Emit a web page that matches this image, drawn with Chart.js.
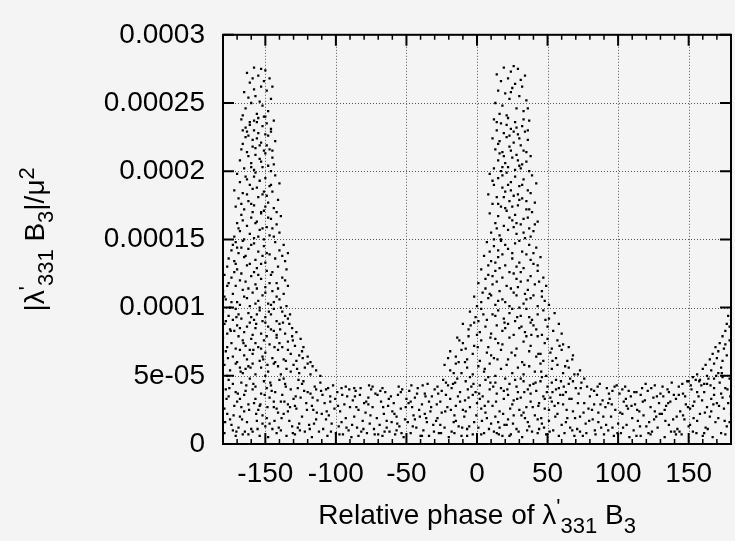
<!DOCTYPE html>
<html lang="en">
<head>
<meta charset="UTF-8">
<title>Relative phase of lambda'331 B3</title>
<script src="https://cdn.jsdelivr.net/npm/chart.js@4.4.1/dist/chart.umd.min.js"></script>
<style>
  html, body { margin: 0; padding: 0; background: #f4f4f4; }
  #wrap { width: 735px; height: 541px; }
</style>
</head>
<body>
<div id="wrap"><canvas id="scan" width="735" height="541"></canvas></div>
<script>
// points: [phase in degrees, |lambda'331 B3|/mu^2 in units of 1e-6]
const leftPeakTop = [[-163,272],[-158,276],[-155,270],[-150,274],[-147,268],[-161,265],[-153,262],[-149,259],[-165,258],[-157,255],[-146,253],[-160,250],[-152,248],[-164,246],[-148,244],[-156,242],[-159,268],[-151,266],[-162,254],[-154,251],[-145,262],[-166,241],[-150,240],[-158,260],[-153,275]];
const leftPeakUpper = [[-167,238],[-161,236],[-155,239],[-149,235],[-144,237],[-164,232],[-158,230],[-152,233],[-146,229],[-162,226],[-156,224],[-150,227],[-143,222],[-166,220],[-159,218],[-153,221],[-147,216],[-163,214],[-157,212],[-151,215],[-145,210],[-168,208],[-160,206],[-154,209],[-148,204],[-165,202],[-158,201],[-152,203],[-144,205],[-161,234],[-146,231],[-155,228],[-164,225],[-149,219],[-157,217],[-162,211],[-150,213],[-167,216],[-153,207],[-146,200],[-159,223],[-156,236],[-151,240],[-163,229],[-148,226],[-160,203],[-154,219],[-166,230],[-145,215],[-158,237],
  [-170,198],[-164,196],[-157,199],[-150,195],[-143,197],[-168,192],[-161,190],[-154,193],[-147,189],[-140,191],[-172,186],[-166,184],[-159,187],[-152,183],[-145,185],[-169,180],[-162,178],[-155,181],[-148,177],[-141,179],[-171,174],[-165,172],[-158,175],[-151,171],[-144,173],[-167,168],[-160,166],[-153,169],[-146,165],[-139,167],[-170,162],[-163,160],[-156,163],[-149,159],[-142,161],[-168,156],[-161,154],[-154,157],[-147,153],[-140,155],[-172,152],[-165,150],[-158,151],[-151,150],[-144,152],[-163,194],[-156,188],[-149,182],[-160,176],[-153,170],[-166,164],[-145,158],[-158,196],[-151,185],[-142,170],[-169,158],[-157,162],[-150,174],[-163,183],[-148,166],[-155,152],[-167,176],[-146,190],[-159,170],[-152,158]];
const leftPeakLower = [[-171,148],[-173,146],[-166,149],[-158,147],[-151,145],[-143,148],[-137,146],[-174,142],[-169,140],[-162,143],[-155,141],[-147,139],[-140,142],[-134,140],[-176,136],[-172,134],[-165,137],[-157,135],[-150,133],[-143,136],[-136,134],[-177,130],[-170,128],[-163,131],[-156,129],[-149,127],[-141,130],[-135,128],[-179,124],[-174,122],[-167,125],[-160,123],[-153,121],[-146,124],[-138,122],[-176,118],[-171,116],[-164,119],[-157,117],[-150,115],[-142,118],[-134,116],[-180,112],[-173,110],[-166,113],[-159,111],[-152,109],[-145,112],[-137,110],[-178,106],[-170,104],[-163,107],[-155,105],[-148,103],[-140,106],[-135,101],[-175,100],[-168,102],[-161,101],[-154,100],[-146,102],[-139,100],[-170,144],[-164,138],[-153,132],[-145,126],[-168,120],[-156,114],[-142,108],[-174,104],[-160,146],[-149,140],[-171,132],[-138,138],[-158,126],[-177,116],[-147,118],[-165,108],[-152,138],[-141,114],[-172,126],[-161,132],[-144,104],[-155,124],[-167,144],[-136,120],[-179,108],[-150,111],[-162,114],[-157,103],
  [-180,97],[-176,94],[-171,99],[-167,92],[-162,96],[-158,91],[-154,98],[-150,93],[-146,95],[-142,90],[-138,97],[-134,92],[-178,90],[-169,95],[-160,93],[-152,90],[-144,99],[-136,94],[-173,91],[-156,95],
  [-179,88],[-175,84],[-170,87],[-165,82],[-161,89],[-157,85],[-153,81],[-148,86],[-144,83],[-140,88],[-136,81],[-131,85],[-128,82],[-177,81],[-168,85],[-159,80],[-150,89],[-142,80],[-133,88],[-163,86],[-172,83],[-146,84],
  [-180,78],[-174,74],[-169,79],[-164,72],[-160,77],[-155,71],[-151,76],[-147,73],[-142,78],[-138,71],[-134,75],[-129,72],[-125,77],[-123,71],[-177,71],[-166,76],[-157,74],[-149,79],[-140,74],[-131,79],[-171,70],[-153,70],
  [-178,68],[-173,64],[-168,69],[-163,62],[-159,66],[-154,61],[-150,67],[-145,63],[-141,69],[-137,62],[-132,66],[-128,61],[-124,68],[-120,64],[-118,60],[-180,61],[-170,60],[-161,69],[-152,64],[-143,60],[-134,69],[-126,65],[-165,65],
  [-179,58],[-175,54],[-171,59],[-166,52],[-162,57],[-157,51],[-153,56],[-148,53],[-144,59],[-139,51],[-135,55],[-130,58],[-126,52],[-122,56],[-118,51],[-114,54],[-111,50],[-177,50],[-168,56],[-159,59],[-150,50],[-141,57],[-132,53],[-120,59],[-164,55],
  [-176.5,63],[-170.5,93],[-165.5,74],[-160.5,56],[-156.5,88],[-151.5,62],[-147.5,97],[-143.5,71],[-139.5,84],[-135.5,61],[-130.5,76],[-127.5,55],[-123.5,63],[-116.5,57],[-174.5,83],[-167.5,53],[-158.5,69],[-148.5,58],[-137.5,89],[-132.5,95]];
const rightEdge = [[150,46],[153,49],[156,51],[158,47],[160,55],[162,58],[163,50],[165,62],[166,54],[167,66],[168,59],[169,71],[170,63],[171,68],[172,74],[173,56],[174,79],[175,70],[176,83],[177,65],[177,88],[178,94],[179,76],[179,86],[180,91],[174,61],[171,52],[176,73],[168,48],[161,44]];
const centrePeakTop = [[14,271],[19,276],[24,273],[29,275],[34,270],[17,266],[22,268],[27,264],[32,262],[15,259],[20,257],[25,261],[30,255],[35,252],[13,250],[18,248],[23,253],[28,246],[33,244],[16,242],[21,241],[26,277],[31,267],[36,246],[24,258]];
const centrePeakUpper = [[12,238],[17,235],[22,239],[27,236],[32,233],[37,237],[14,230],[19,228],[24,231],[29,227],[34,229],[11,224],[16,222],[21,225],[26,221],[31,219],[36,223],[13,216],[18,214],[23,218],[28,212],[33,215],[38,211],[15,208],[20,206],[25,210],[30,204],[35,207],[12,202],[17,200],[22,203],[27,201],[32,205],[37,200],[21,234],[26,229],[15,220],[30,224],[35,214],[19,211],[24,215],[29,208],[14,236],[33,238],[18,203],[28,232],[23,226],[36,230],[16,213],[31,202],
  [9,198],[15,195],[21,199],[27,196],[33,194],[39,197],[12,190],[18,188],[24,192],[30,189],[36,186],[42,191],[8,183],[14,181],[20,185],[26,182],[32,180],[38,184],[11,176],[17,174],[23,178],[29,175],[35,172],[41,177],[9,169],[15,167],[21,171],[27,168],[33,165],[39,170],[13,162],[19,160],[25,164],[31,161],[37,158],[43,163],[10,155],[16,153],[22,157],[28,154],[34,151],[40,156],[12,150],[18,197],[24,186],[30,179],[36,166],[20,173],[26,159],[32,190],[14,158],[38,152],[23,166],[29,183],[17,150],[35,178],[11,193],[41,161],[25,174],[19,181],[28,162],[33,155],[22,190],[37,172],[15,176]];
const centrePeakLower = [[7,148],[12,145],[17,149],[22,143],[27,147],[32,141],[37,146],[42,144],[9,141],[20,146],[30,149],[40,140],[15,142],[25,140],
  [5,138],[10,134],[15,137],[20,131],[25,136],[30,133],[35,139],[40,132],[45,137],[8,131],[18,139],[28,130],[38,135],[13,133],[43,131],
  [3,128],[8,124],[13,127],[18,122],[23,126],[28,121],[33,129],[38,123],[43,127],[47,122],[6,121],[16,129],[26,125],[36,120],[11,123],[31,126],
  [1,118],[6,114],[11,117],[16,112],[21,116],[26,111],[31,119],[36,113],[41,117],[46,112],[49,116],[4,111],[14,119],[24,114],[34,110],[44,119],[9,110],[29,115],
  [-2,108],[3,104],[8,107],[13,102],[18,106],[23,101],[28,109],[33,103],[38,107],[43,101],[48,105],[51,102],[0,101],[10,109],[20,104],[30,100],[40,109],[46,108],[15,105],[35,106],
  [-5,97],[-1,93],[3,99],[7,91],[11,95],[15,98],[19,92],[23,96],[27,90],[31,94],[35,99],[39,91],[43,95],[47,98],[51,92],[55,96],[1,90],[13,94],[25,99],[37,93],
  [-10,88],[-6,84],[-2,89],[2,82],[6,86],[10,81],[14,87],[18,83],[22,88],[26,80],[30,85],[34,82],[38,89],[42,84],[46,80],[50,86],[54,83],[58,88],[60,81],[0,80],[20,85],[40,87],
  [-14,78],[-10,74],[-6,79],[-2,72],[3,76],[8,71],[13,77],[18,73],[23,78],[28,70],[33,75],[38,72],[43,79],[48,74],[53,70],[57,76],[61,73],[65,71],[-8,70],[15,74],[35,79],[50,77],
  [-19,68],[-15,64],[-11,69],[-7,62],[-3,66],[2,61],[7,67],[12,63],[17,69],[22,62],[27,65],[32,60],[37,68],[42,64],[47,61],[52,67],[56,63],[60,69],[64,61],[68,65],[-13,60],[10,65],[45,66],
  [-23,58],[-19,54],[-15,59],[-11,52],[-7,56],[-3,51],[1,57],[5,53],[9,59],[13,50],[17,55],[21,58],[25,52],[29,56],[33,51],[37,57],[41,53],[45,59],[49,50],[53,55],[57,58],[61,52],[65,56],[69,51],[73,54],
  [-20.5,63],[-16.5,52],[-12.5,76],[-8.5,60],[-4.5,87],[0.5,71],[4.5,95],[9.5,78],[14.5,62],[19.5,89],[24.5,67],[28.5,93],[33.5,58],[38.5,80],[43.5,66],[48.5,91],[53.5,61],[58.5,72],[62.5,57],[67.5,62],[71.5,51],[5.5,55],[31.5,86],[45.5,53]];
const floorLeft = [[-179,8],[-177,22],[-176,35],[-174,14],[-173,44],[-172,28],[-171,6],[-178,40],[-175,18],[-170,31],[-179,26],[-173,10],[-176,47],[-171,38],
  [-169,12],[-168,33],[-167,45],[-166,7],[-165,24],[-164,39],[-163,16],[-162,29],[-161,48],[-160,11],[-168,20],[-165,36],[-162,7],[-167,27],
  [-159,9],[-158,30],[-157,42],[-156,17],[-155,25],[-154,6],[-153,37],[-152,21],[-151,46],[-150,13],[-157,33],[-154,28],[-159,40],[-152,15],
  [-149,19],[-148,5],[-147,34],[-146,43],[-145,11],[-144,27],[-143,38],[-142,8],[-141,23],[-140,47],[-147,15],[-144,31],[-149,41],[-142,26],
  [-139,10],[-138,36],[-137,22],[-136,44],[-135,6],[-134,29],[-133,17],[-132,40],[-131,13],[-130,33],[-137,48],[-134,24],[-139,31],
  [-129,7],[-128,26],[-127,41],[-126,15],[-125,34],[-124,20],[-123,46],[-122,9],[-121,30],[-120,38],[-127,12],[-124,44],[-129,28],
  [-119,14],[-118,37],[-117,5],[-116,25],[-115,42],[-114,18],[-113,32],[-112,9],[-111,45],[-110,22],[-117,28],[-114,40],
  [-178.5,16],[-175.5,41],[-172.5,21],[-170.5,9],[-177.5,33],[-169.5,37],[-166.5,18],[-163.5,43],[-161.5,25],[-164.5,9],
  [-158.5,44],[-155.5,11],[-153.5,29],[-150.5,36],[-156.5,22],[-148.5,27],[-145.5,39],[-143.5,17],[-140.5,12],[-146.5,45],
  [-138.5,19],[-135.5,42],[-132.5,27],[-130.5,8],[-136.5,31],[-128.5,35],[-125.5,10],[-122.5,39],[-120.5,25],[-126.5,47],
  [-118.5,11],[-116.5,34],[-113.5,23],[-110.5,39],[-115.5,15]];
const floorMiddleLeft = [[-109,11],[-108,30],[-107,40],[-106,6],[-105,21],[-104,35],[-103,15],[-102,43],[-101,26],[-100,8],[-107,18],[-104,31],
  [-99,38],[-98,13],[-97,24],[-96,41],[-95,7],[-94,29],[-93,19],[-92,35],[-91,10],[-90,27],[-96,16],[-93,42],
  [-89,5],[-88,32],[-87,20],[-86,39],[-85,12],[-84,25],[-83,36],[-82,9],[-81,17],[-80,30],[-87,41],[-84,6],
  [-79,23],[-78,8],[-77,34],[-76,15],[-75,40],[-74,27],[-73,11],[-72,37],[-71,19],[-70,7],[-77,29],[-74,42],
  [-69,14],[-68,31],[-67,6],[-66,22],[-65,38],[-64,17],[-63,28],[-62,9],[-61,35],[-60,24],[-67,41],[-64,12],
  [-59,30],[-58,7],[-57,20],[-56,36],[-55,13],[-54,26],[-53,40],[-52,5],[-51,18],[-50,33],[-57,10],[-54,38],
  [-49,16],[-48,39],[-47,8],[-46,27],[-45,21],[-44,34],[-43,12],[-42,41],[-41,25],[-40,6],[-47,31],[-44,18],
  [-39,29],[-38,10],[-37,37],[-36,19],[-35,44],[-34,6],[-33,24],[-32,35],[-31,14],[-30,40],[-37,22],[-34,31],[-39,6],
  [-109.5,36],[-106.5,24],[-103.5,9],[-100.5,33],[-105.5,41],[-98.5,28],[-95.5,36],[-92.5,12],[-90.5,40],[-97.5,7],
  [-88.5,14],[-85.5,27],[-82.5,41],[-80.5,11],[-86.5,35],[-78.5,31],[-75.5,21],[-72.5,7],[-70.5,36],[-76.5,43],
  [-68.5,39],[-65.5,9],[-62.5,33],[-60.5,16],[-66.5,27],[-58.5,22],[-55.5,42],[-53.5,8],[-50.5,27],[-56.5,15],
  [-48.5,30],[-45.5,13],[-42.5,37],[-40.5,20],[-46.5,43],[-38.5,43],[-35.5,16],[-32.5,27],[-30.5,9],[-36.5,35]];
const floorCentre = [[-29,17],[-28,42],[-27,8],[-26,31],[-25,23],[-24,47],[-23,12],[-22,36],[-21,27],[-20,5],[-28,19],[-25,39],[-22,45],[-26,14],
  [-19,33],[-18,9],[-17,44],[-16,21],[-15,28],[-14,48],[-13,13],[-12,38],[-11,6],[-10,25],[-18,41],[-15,17],[-12,31],[-16,8],
  [-9,20],[-8,46],[-7,11],[-6,34],[-5,27],[-4,42],[-3,7],[-2,16],[-1,38],[0,30],[-8,24],[-5,49],[-3,36],[-7,6],
  [1,12],[2,43],[3,26],[4,35],[5,8],[6,47],[7,19],[8,31],[9,40],[10,15],[3,7],[6,23],[8,49],[2,33],
  [11,28],[12,9],[13,45],[14,37],[15,16],[16,24],[17,41],[18,6],[19,33],[20,48],[13,20],[16,12],[19,39],[14,8],
  [21,14],[22,36],[23,44],[24,7],[25,29],[26,21],[27,47],[28,11],[29,38],[30,25],[23,6],[26,32],[22,18],[28,42],
  [31,34],[32,5],[33,46],[34,19],[35,27],[36,40],[37,13],[38,31],[39,9],[40,44],[33,23],[36,16],[31,48],[38,37],
  [41,21],[42,39],[43,8],[44,30],[45,46],[46,15],[47,35],[48,26],[49,7],[50,42],[43,18],[46,49],[44,11],[48,33],
  [51,17],[52,34],[53,45],[54,10],[55,28],[56,40],[57,22],[58,6],[59,36],[60,14],[53,31],[56,47],[51,25],[58,41],
  [61,29],[62,8],[63,38],[64,19],[65,44],[66,12],[67,33],[68,24],[69,6],[70,41],[63,16],[66,48],[61,36],[68,46],
  [71,11],[72,37],[73,20],[74,45],[75,6],[76,30],[77,15],[78,42],[79,26],[80,35],[73,9],[76,48],
  [-28.5,29],[-25.5,8],[-22.5,24],[-20.5,43],[-27.5,37],[-18.5,25],[-15.5,45],[-13.5,35],[-10.5,12],[-16.5,16],
  [-8.5,32],[-5.5,13],[-2.5,44],[-0.5,21],[-6.5,40],[1.5,37],[3.5,17],[5.5,28],[8.5,11],[9.5,45],
  [11.5,42],[13.5,31],[15.5,7],[18.5,22],[19.5,14],[21.5,40],[23.5,26],[25.5,15],[28.5,33],[29.5,9],
  [31.5,21],[33.5,38],[35.5,10],[37.5,43],[39.5,27],[41.5,45],[43.5,28],[45.5,19],[47.5,12],[49.5,38],
  [51.5,9],[53.5,38],[55.5,20],[57.5,30],[59.5,46],[61.5,42],[63.5,25],[65.5,33],[67.5,10],[69.5,19],
  [71.5,30],[73.5,41],[75.5,23],[77.5,8],[79.5,17]];
const floorRight = [[81,40],[82,18],[83,29],[84,7],[85,36],[86,23],[87,44],[88,12],[89,32],[90,7],[83,39],[86,16],
  [91,27],[92,41],[93,10],[94,33],[95,20],[96,39],[97,6],[98,25],[99,43],[100,15],[93,30],[96,12],
  [101,37],[102,8],[103,22],[104,31],[105,42],[106,14],[107,26],[108,5],[109,35],[110,19],[103,40],[106,28],
  [111,10],[112,29],[113,38],[114,17],[115,24],[116,6],[117,41],[118,21],[119,32],[120,13],[113,6],[116,36],
  [121,39],[122,16],[123,27],[124,9],[125,34],[126,43],[127,20],[128,12],[129,30],[130,37],[123,7],[126,24],
  [131,22],[132,35],[133,5],[134,28],[135,40],[136,14],[137,31],[138,45],[139,18],[140,9],[133,25],[136,38],
  [141,33],[142,11],[143,42],[144,24],[145,7],[146,37],[147,18],[148,29],[149,46],[150,13],[143,36],[146,21],[141,7],
  [151,26],[152,40],[153,9],[154,31],[155,47],[156,17],[157,35],[158,22],[159,43],[160,6],[153,28],[156,38],[151,14],
  [161,38],[162,12],[163,27],[164,48],[165,20],[166,33],[167,5],[168,41],[169,16],[170,30],[163,44],[166,24],[161,8],[168,36],
  [171,19],[172,45],[173,8],[174,34],[175,26],[176,41],[177,13],[178,30],[179,48],[180,22],[173,37],[176,7],[179,16],[174,49],
  [81.5,25],[83.5,10],[85.5,42],[87.5,29],[89.5,20],[91.5,14],[93.5,37],[95.5,29],[97.5,42],[99.5,8],
  [101.5,23],[103.5,12],[105.5,33],[107.5,39],[109.5,28],[111.5,38],[113.5,25],[115.5,13],[117.5,31],[119.5,44],
  [121.5,8],[123.5,41],[125.5,18],[127.5,35],[129.5,22],[131.5,42],[133.5,17],[135.5,30],[137.5,9],[139.5,36],
  [141.5,20],[143.5,9],[145.5,44],[147.5,35],[149.5,27],[151.5,43],[153.5,19],[155.5,8],[157.5,46],[159.5,32],
  [161.5,23],[163.5,11],[165.5,43],[167.5,29],[169.5,50],[171.5,28],[173.5,52],[175.5,17],[177.5,40],[179.5,35]];

const valueUnit = 1e-6;
const xTickValues = [-150, -100, -50, 0, 50, 100, 150];
const yTickValues = [0, 5e-5, 1e-4, 1.5e-4, 2e-4, 2.5e-4, 3e-4];
const yTickLabels = ['0', '5e-05', '0.0001', '0.00015', '0.0002', '0.00025', '0.0003'];
const xTitleParts = [{ t: 'Relative phase of ', s: 0 }, { t: 'λ', s: 0 }, { t: "'", s: 1 }, { t: '331', s: -1 }, { t: ' B', s: 0 }, { t: '3', s: -1 }];
const yTitleParts = [{ t: '|', s: 0 }, { t: 'λ', s: 0 }, { t: "'", s: 1 }, { t: '331', s: -1 }, { t: ' B', s: 0 }, { t: '3', s: -1 }, { t: '|/μ', s: 0 }, { t: '2', s: 1 }];

const FONT = '"Liberation Sans", Arial, Helvetica, sans-serif';
const BIG = 28, SMALL = 22;

const points = [leftPeakTop, leftPeakUpper, leftPeakLower, rightEdge, centrePeakTop, centrePeakUpper,
  centrePeakLower, floorLeft, floorMiddleLeft, floorCentre, floorRight]
  .flat().map(p => ({ x: p[0], y: p[1] * valueUnit }));

function drawRich(ctx, parts, cx, baseY) {
  const fontFor = p => (p.s ? SMALL : BIG) + 'px ' + FONT;
  let total = 0;
  parts.forEach(p => { ctx.font = fontFor(p); total += ctx.measureText(p.t).width; });
  let x = cx - total / 2;
  ctx.textAlign = 'left';
  ctx.textBaseline = 'alphabetic';
  parts.forEach(p => {
    ctx.font = fontFor(p);
    const dy = p.s === 1 ? -10 : (p.s === -1 ? 9 : 0);
    ctx.fillText(p.t, x, baseY + dy);
    x += ctx.measureText(p.t).width;
  });
}

const gnuplotLook = {
  id: 'gnuplotLook',
  beforeDraw(chart) {
    const ctx = chart.ctx;
    ctx.save();
    ctx.fillStyle = '#f4f4f4';
    ctx.fillRect(0, 0, chart.width, chart.height);
    ctx.restore();
  },
  beforeDatasetsDraw(chart) {
    // dotted grid
    const { ctx, chartArea: a, scales: { x, y } } = chart;
    ctx.save();
    ctx.strokeStyle = '#555';
    ctx.lineWidth = 1;
    ctx.setLineDash([1, 2]);
    xTickValues.forEach(v => {
      const px = Math.round(x.getPixelForValue(v)) + 0.5;
      ctx.beginPath(); ctx.moveTo(px, a.top); ctx.lineTo(px, a.bottom); ctx.stroke();
    });
    yTickValues.slice(1, -1).forEach(v => {
      const py = Math.round(y.getPixelForValue(v)) + 0.5;
      ctx.beginPath(); ctx.moveTo(a.left, py); ctx.lineTo(a.right, py); ctx.stroke();
    });
    ctx.restore();
  },
  afterDraw(chart) {
    const { ctx, chartArea: a, scales: { x, y } } = chart;
    ctx.save();
    ctx.strokeStyle = '#000';
    // inward ticks, mirrored on all sides
    ctx.lineWidth = 2;
    xTickValues.forEach(v => {
      const px = x.getPixelForValue(v);
      ctx.beginPath();
      ctx.moveTo(px, a.bottom); ctx.lineTo(px, a.bottom - 11);
      ctx.moveTo(px, a.top); ctx.lineTo(px, a.top + 11);
      ctx.stroke();
    });
    yTickValues.forEach(v => {
      const py = y.getPixelForValue(v);
      ctx.beginPath();
      ctx.moveTo(a.left, py); ctx.lineTo(a.left + 11, py);
      ctx.moveTo(a.right, py); ctx.lineTo(a.right - 11, py);
      ctx.stroke();
    });
    ctx.lineWidth = 1.5;
    for (let v = x.min + 10; v < x.max; v += 10) {
      if (xTickValues.includes(v)) continue;
      const px = x.getPixelForValue(v);
      ctx.beginPath();
      ctx.moveTo(px, a.bottom); ctx.lineTo(px, a.bottom - 5);
      ctx.moveTo(px, a.top); ctx.lineTo(px, a.top + 5);
      ctx.stroke();
    }
    // frame
    ctx.lineWidth = 2;
    ctx.strokeRect(a.left, a.top, a.right - a.left, a.bottom - a.top);

    // axis titles
    ctx.fillStyle = '#000';
    drawRich(ctx, xTitleParts, (a.left + a.right) / 2, 524);
    ctx.translate(44, (a.top + a.bottom) / 2);
    ctx.rotate(-Math.PI / 2);
    drawRich(ctx, yTitleParts, 0, 0);
    ctx.restore();
  }
};

new Chart(document.getElementById('scan'), {
  type: 'scatter',
  data: {
    datasets: [{
      data: points,
      pointStyle: 'rect',
      pointRadius: 1.6,
      pointBorderWidth: 0,
      borderWidth: 0,
      pointBackgroundColor: '#000',
      backgroundColor: '#000'
    }]
  },
  options: {
    responsive: false,
    animation: false,
    events: [],
    layout: { padding: { top: 22, right: 1, left: 0, bottom: 0 } },
    plugins: { legend: { display: false }, tooltip: { enabled: false } },
    scales: {
      x: {
        type: 'linear',
        min: -180,
        max: 180,
        grid: { display: false, drawTicks: false },
        border: { display: false },
        afterBuildTicks: s => { s.ticks = xTickValues.map(v => ({ value: v })); },
        afterFit: s => { s.height = 97; },
        ticks: {
          color: '#000',
          font: { family: FONT, size: BIG },
          padding: 13,
          maxRotation: 0,
          autoSkip: false,
          callback: v => String(v)
        }
      },
      y: {
        type: 'linear',
        min: 0,
        max: 3e-4,
        grid: { display: false, drawTicks: false },
        border: { display: false },
        afterBuildTicks: s => { s.ticks = yTickValues.map(v => ({ value: v })); },
        afterFit: s => { s.width = 223; },
        ticks: {
          color: '#000',
          font: { family: FONT, size: BIG },
          padding: 18,
          autoSkip: false,
          callback: (v, i) => yTickLabels[i]
        }
      }
    }
  },
  plugins: [gnuplotLook]
});
</script>
</body>
</html>
